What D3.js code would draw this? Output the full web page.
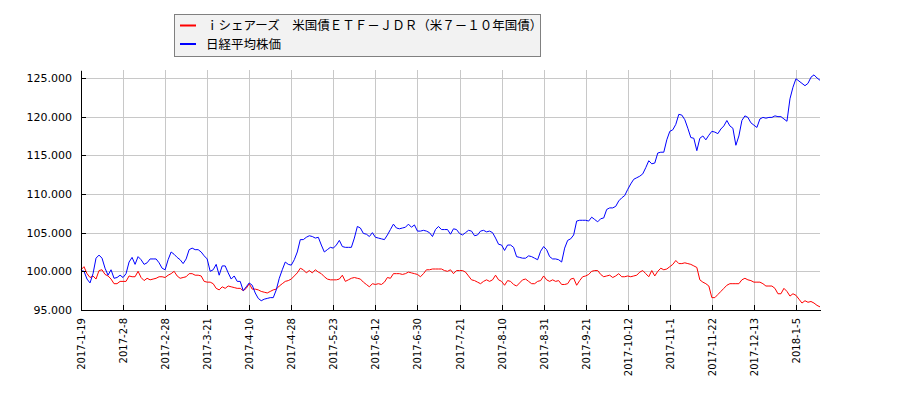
<!DOCTYPE html>
<html>
<head>
<meta charset="utf-8">
<script src="https://cdn.jsdelivr.net/npm/d3@7"></script>
<style>
  body { margin: 0; background: #fff; }
  .axis text { font-family: "DejaVu Sans", sans-serif; fill: #000; }
  .axis path, .axis line { stroke: #000; shape-rendering: crispEdges; }
  .grid line { stroke: #c8c8c8; shape-rendering: crispEdges; }
  .legend text { font-family: "Noto Sans CJK JP", sans-serif; font-size: 12.5px; fill: #000; }
</style>
</head>
<body>
<div id="chart"></div>
<script>
// series names
var seriesNames = ["ｉシェアーズ　米国債ＥＴＦ－ＪＤＲ（米７－１０年国債）", "日経平均株価"];

// x tick labels, one every 14 trading days
var tickIdx = [0, 14, 28, 42, 56, 70, 84, 98, 112, 126, 140, 154, 168, 182, 196, 210, 224, 238];
var tickLabels = ["2017-1-19", "2017-2-8", "2017-2-28", "2017-3-21", "2017-4-10", "2017-4-28",
  "2017-5-23", "2017-6-12", "2017-6-30", "2017-7-21", "2017-8-10", "2017-8-31",
  "2017-9-21", "2017-10-12", "2017-11-1", "2017-11-22", "2017-12-13", "2018-1-5"];

var yTicks = [95, 100, 105, 110, 115, 120, 125];

// ETF (red), indexed to 100
var etf = [
  100.2, 100.6, 99.7, 99.2, 99.4, 99.0, 100.1, 100.2, 99.6, 99.4,
  99.0, 98.4, 98.4, 98.7, 98.7, 98.7, 99.4, 99.3, 99.3, 100.0,
  99.2, 98.8, 99.1, 98.9, 99.0, 99.1, 99.3, 99.3, 99.2, 99.5,
  99.7, 100.0, 99.4, 99.1, 99.2, 99.3, 99.7, 99.7, 99.5, 99.5,
  99.4, 98.7, 98.6, 98.6, 98.4, 97.8, 97.6, 98.0, 97.8, 98.1,
  98.0, 97.9, 97.8, 97.8, 97.5, 97.8, 98.4, 97.7, 97.7, 97.6,
  97.4, 97.3, 97.2, 97.4, 97.6, 97.7, 98.1, 98.4, 98.7, 98.8,
  99.0, 99.4, 99.8, 100.4, 100.2, 99.8, 100.1, 99.8, 100.2, 99.9,
  99.7, 99.3, 99.0, 98.9, 98.9, 98.9, 99.0, 99.5, 98.7, 98.9,
  99.1, 99.2, 99.1, 99.0, 98.6, 98.3, 98.0, 98.4, 98.3, 98.4,
  98.3, 98.6, 99.2, 99.1, 99.7, 99.7, 99.7, 99.6, 99.7, 99.9,
  99.8, 99.7, 99.6, 99.3, 99.7, 100.2, 100.2, 100.3, 100.3, 100.3,
  100.3, 100.1, 100.0, 100.2, 99.7, 100.1, 100.1, 100.1, 99.9, 99.4,
  98.9, 98.8, 98.6, 98.4, 98.7, 98.9, 98.7, 98.9, 99.5, 98.9,
  98.7, 98.2, 98.8, 98.7, 98.3, 98.1, 98.5, 98.9, 99.0, 98.7,
  98.4, 98.4, 98.7, 98.8, 99.4, 98.9, 98.7, 98.9, 98.7, 98.8,
  98.3, 98.3, 98.4, 99.0, 99.1, 98.2, 98.8, 99.3, 99.4, 99.6,
  100.0, 100.1, 100.1, 99.6, 99.3, 99.4, 99.5, 99.2, 99.4, 99.7,
  99.3, 99.3, 99.4, 99.3, 99.4, 99.5, 99.9, 100.1, 99.7, 99.3,
  100.1, 99.4, 100.0, 100.4, 100.2, 100.3, 100.6, 100.9, 101.4, 101.0,
  101.0, 101.1, 101.0, 100.9, 100.7, 100.5, 98.9, 98.6, 98.4, 98.1,
  96.6, 96.6, 97.0, 97.4, 97.8, 98.2, 98.4, 98.4, 98.4, 98.4,
  98.9, 99.1, 98.9, 98.8, 98.6, 98.6, 98.6, 98.4, 98.1, 98.1,
  98.1, 97.8, 97.1, 97.1, 97.8, 97.4, 96.8, 97.1, 96.9, 96.4,
  95.9, 96.2, 96.0, 96.1, 95.9, 95.6, 95.4
];

// Nikkei 225 (blue), indexed to 100
var nikkei = [
  100.1, 100.0, 99.0, 98.5, 99.7, 101.7, 102.1, 101.7, 100.4, 99.5,
  100.2, 99.1, 99.2, 99.5, 99.2, 99.7, 101.2, 101.8, 100.9, 101.9,
  101.5, 100.9, 101.1, 101.6, 101.6, 101.6, 101.1, 100.4, 100.2, 101.5,
  102.5, 102.2, 101.8, 101.5, 101.0, 101.6, 102.8, 103.0, 102.8, 102.8,
  102.5, 102.0, 101.6, 100.0, 100.2, 100.9, 99.5, 100.7, 100.7, 99.8,
  99.0, 99.4, 98.7, 98.7, 97.5, 98.0, 98.5, 98.2, 97.2, 96.5,
  96.2, 96.4, 96.5, 96.6, 96.6, 97.6, 99.1, 100.2, 101.2, 100.9,
  100.8, 101.5, 102.5, 104.1, 104.1, 104.4, 104.6, 104.5, 104.3, 104.4,
  103.4, 102.5, 102.8, 103.1, 103.0, 103.4, 104.0, 103.2, 103.1, 103.1,
  103.1, 104.3, 105.8, 105.6, 104.9, 104.8, 104.5, 105.0, 104.4, 104.3,
  104.2, 104.1, 104.7, 105.4, 106.1, 105.6, 105.5, 105.6, 105.7, 106.1,
  105.7, 106.0, 105.2, 105.2, 105.3, 105.2, 105.0, 104.5, 105.4, 105.8,
  105.4, 105.4, 105.4, 104.8, 105.5, 105.4, 104.9, 104.7, 105.0, 105.3,
  105.2, 104.6, 104.7, 105.2, 105.3, 105.1, 105.2, 105.0, 104.3, 103.5,
  103.4, 102.7, 103.4, 103.4, 103.1, 101.9, 101.8, 101.7, 101.7, 102.0,
  101.9, 101.7, 101.5, 102.6, 103.2, 102.8, 101.9, 101.6, 101.6, 101.5,
  101.2, 103.0, 104.0, 104.2, 104.7, 106.5, 106.6, 106.6, 106.6, 106.5,
  107.0, 106.7, 106.4, 106.8, 106.9, 108.0, 108.2, 108.2, 108.4, 109.1,
  109.5, 109.8, 110.6, 111.3, 111.9, 112.1, 112.3, 112.6, 113.4, 114.3,
  113.9, 114.0, 115.3, 115.4, 115.4, 117.0, 118.1, 118.3, 119.0, 120.3,
  120.2, 119.6, 118.5, 117.3, 117.2, 115.6, 117.2, 117.5, 117.0, 117.6,
  118.1, 118.0, 117.8, 118.4, 118.8, 119.5, 118.8, 118.5, 116.3, 117.5,
  119.5, 120.1, 119.9, 119.2, 118.9, 118.6, 119.7, 119.9, 119.8, 119.9,
  119.9, 120.1, 120.0, 120.0, 119.7, 119.4, 122.3, 123.8, 124.9, 124.6,
  124.3, 124.0, 124.3, 125.1, 125.4, 125.0, 124.7
];

var W = 900, H = 400;
var plotLeft = 81, plotRight = 820, plotTop = 70, plotBottom = 310;

var svg = d3.select("#chart").append("svg")
    .attr("width", W)
    .attr("height", H);

var x = d3.scaleLinear().domain([0, etf.length - 1]).range([plotLeft, plotRight]);
var y = d3.scaleLinear().domain([95, 126.03]).range([plotBottom, plotTop]);

// grid
var grid = svg.append("g").attr("class", "grid");
grid.selectAll(".vg").data(tickIdx).enter().append("line")
    .attr("x1", function(d) { return Math.round(x(d)) + 0.5; })
    .attr("x2", function(d) { return Math.round(x(d)) + 0.5; })
    .attr("y1", plotTop).attr("y2", plotBottom);
grid.selectAll(".hg").data(yTicks).enter().append("line")
    .attr("x1", plotLeft).attr("x2", plotRight)
    .attr("y1", function(d) { return Math.round(y(d)) + 0.5; })
    .attr("y2", function(d) { return Math.round(y(d)) + 0.5; });

// lines
var line = function(arr) {
  return d3.line()
    .x(function(d, i) { return x(i); })
    .y(function(d) { return y(d); })(arr);
};

svg.append("path")
    .attr("d", line(etf))
    .attr("fill", "none")
    .attr("stroke", "#ff0000")
    .attr("stroke-width", 1);

svg.append("path")
    .attr("d", line(nikkei))
    .attr("fill", "none")
    .attr("stroke", "#0000ff")
    .attr("stroke-width", 1);

// x axis
var xAxis = d3.axisBottom(x)
    .tickValues(tickIdx)
    .tickFormat(function(d, i) { return tickLabels[i]; })
    .tickSizeInner(-5)
    .tickSizeOuter(0);

svg.append("g")
    .attr("class", "x axis")
    .attr("transform", "translate(0," + plotBottom + ")")
    .call(xAxis)
    .selectAll("text")
    .style("font-size", "10px")
    .style("text-anchor", "end")
    .attr("x", -8)
    .attr("y", 0)
    .attr("dy", "0.35em")
    .attr("transform", "rotate(-90)");

// y axis
var yAxis = d3.axisLeft(y)
    .tickValues(yTicks)
    .tickFormat(d3.format(".3f"))
    .tickSizeInner(-5)
    .tickSizeOuter(0)
    .tickPadding(9);

svg.append("g")
    .attr("class", "y axis")
    .attr("transform", "translate(" + plotLeft + ",0)")
    .call(yAxis)
    .selectAll("text")
    .style("font-size", "11px");

// legend
var legend = svg.append("g").attr("class", "legend");
legend.append("rect")
    .attr("x", 174.5).attr("y", 14.5)
    .attr("width", 366).attr("height", 42)
    .attr("fill", "#f2f2f2")
    .attr("stroke", "#808080");

var colors = ["#ff0000", "#0000ff"];
seriesNames.forEach(function(name, i) {
  var cy = 25.5 + i * 18.5;
  legend.append("line")
      .attr("x1", 180).attr("x2", 196)
      .attr("y1", cy).attr("y2", cy)
      .attr("stroke", colors[i])
      .attr("stroke-width", 2);
  legend.append("text")
      .attr("x", 206)
      .attr("y", cy)
      .attr("dy", "0.38em")
      .text(name);
});
</script>
</body>
</html>
